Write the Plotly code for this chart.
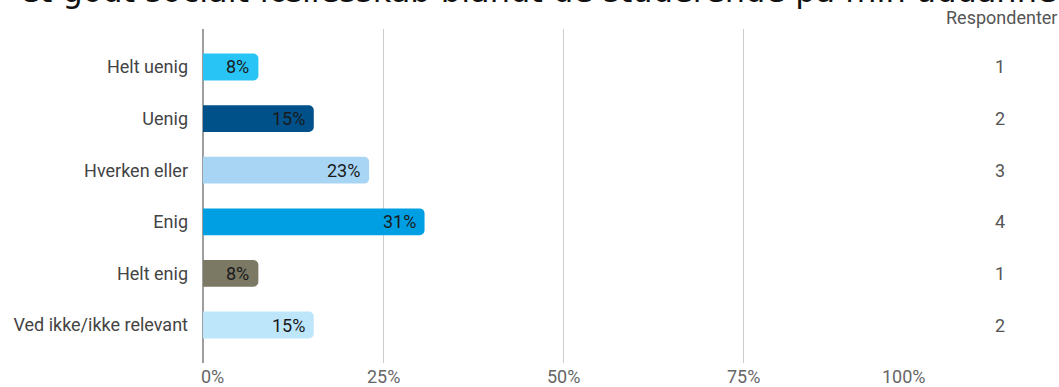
import plotly.graph_objects as go

title_text = "et godt socialt fællesskab blandt de studerende på min uddannelse"
categories = ["Helt uenig", "Uenig", "Hverken eller", "Enig", "Helt enig", "Ved ikke/ikke relevant"]
respondents = [1, 2, 3, 4, 1, 2]
percent_labels = ["8%", "15%", "23%", "31%", "8%", "15%"]
bar_colors = ["#29C4F6", "#00508A", "#A9D5F5", "#009FE3", "#7B7864", "#BEE6FA"]
x_tickvals = [0, 25, 50, 75, 100]
x_ticktext = ["0%", "25%", "50%", "75%", "100%"]
respondent_header = "Respondenter"

total = sum(respondents)
percents = [r / total * 100 for r in respondents]

W, H = 1059, 387
ML, MR, MT, MB = 203, 136, 29, 24
PW = W - ML - MR
PH = H - MT - MB
FS = 18

fig = go.Figure()
fig.add_trace(go.Bar(
    x=percents, y=categories, orientation="h",
    marker=dict(color=bar_colors, line=dict(width=0), cornerradius=5),
    width=0.52, hoverinfo="skip", showlegend=False,
))

annotations = []
# value labels inside bars
for cat, p, lab in zip(categories, percents, percent_labels):
    annotations.append(dict(x=p, y=cat, xref="x", yref="y", text=lab, showarrow=False,
                            xanchor="right", yanchor="middle", xshift=-7,
                            font=dict(family="Roboto", size=FS, color="#1a1a1a")))
# respondent counts
for cat, r in zip(categories, respondents):
    annotations.append(dict(x=(1000 - ML) / PW, y=cat, xref="paper", yref="y", text=str(r),
                            showarrow=False, xanchor="center", yanchor="middle",
                            font=dict(family="Roboto", size=FS, color="#555555")))
annotations.append(dict(x=(1059 - ML) / PW, y=1 + (MT - 18) / PH, xref="paper", yref="paper",
                        text=respondent_header, showarrow=False, xanchor="right", yanchor="middle",
                        font=dict(family="Roboto", size=FS, color="#555555")))
# x tick labels
for v, t in zip(x_tickvals, x_ticktext):
    anchor = "left" if v == x_tickvals[0] else ("right" if v == x_tickvals[-1] else "center")
    shift = -4 if anchor == "left" else (5 if anchor == "right" else 0)
    annotations.append(dict(x=v, y=0, xref="x", yref="paper", text=t, showarrow=False,
                            xanchor=anchor, yanchor="top", yshift=-1, xshift=shift,
                            font=dict(family="Roboto", size=FS, color="#666666")))
# title (cut off at top in reference)
annotations.append(dict(x=(18 - ML) / PW, y=1 + (MT + 9) / PH, xref="paper", yref="paper",
                        text=title_text, showarrow=False, xanchor="left", yanchor="middle",
                        font=dict(family="DejaVu Sans", size=32, color="#111111")))

fig.update_layout(
    width=W, height=H,
    margin=dict(l=ML, r=MR, t=MT, b=MB, pad=0),
    paper_bgcolor="white", plot_bgcolor="white",
    annotations=annotations,
    xaxis=dict(range=[0, 100], tickvals=x_tickvals, showticklabels=False,
               showgrid=True, gridcolor="#CCCCCC", gridwidth=1,
               zeroline=True, zerolinecolor="#9E9E9E", zerolinewidth=1.5,
               showline=False, fixedrange=True),
    yaxis=dict(categoryorder="array", categoryarray=categories,
               range=[len(categories) - 1 + 0.736, -0.736],
               showgrid=False, zeroline=False, showline=False,
               ticks="", ticklabelstandoff=14,
               tickfont=dict(family="Roboto", size=FS, color="#444444")),
)

fig.write_html("out.html", config={"displayModeBar": False},
               post_script="document.body.style.margin='0';document.body.style.overflow='hidden';")
